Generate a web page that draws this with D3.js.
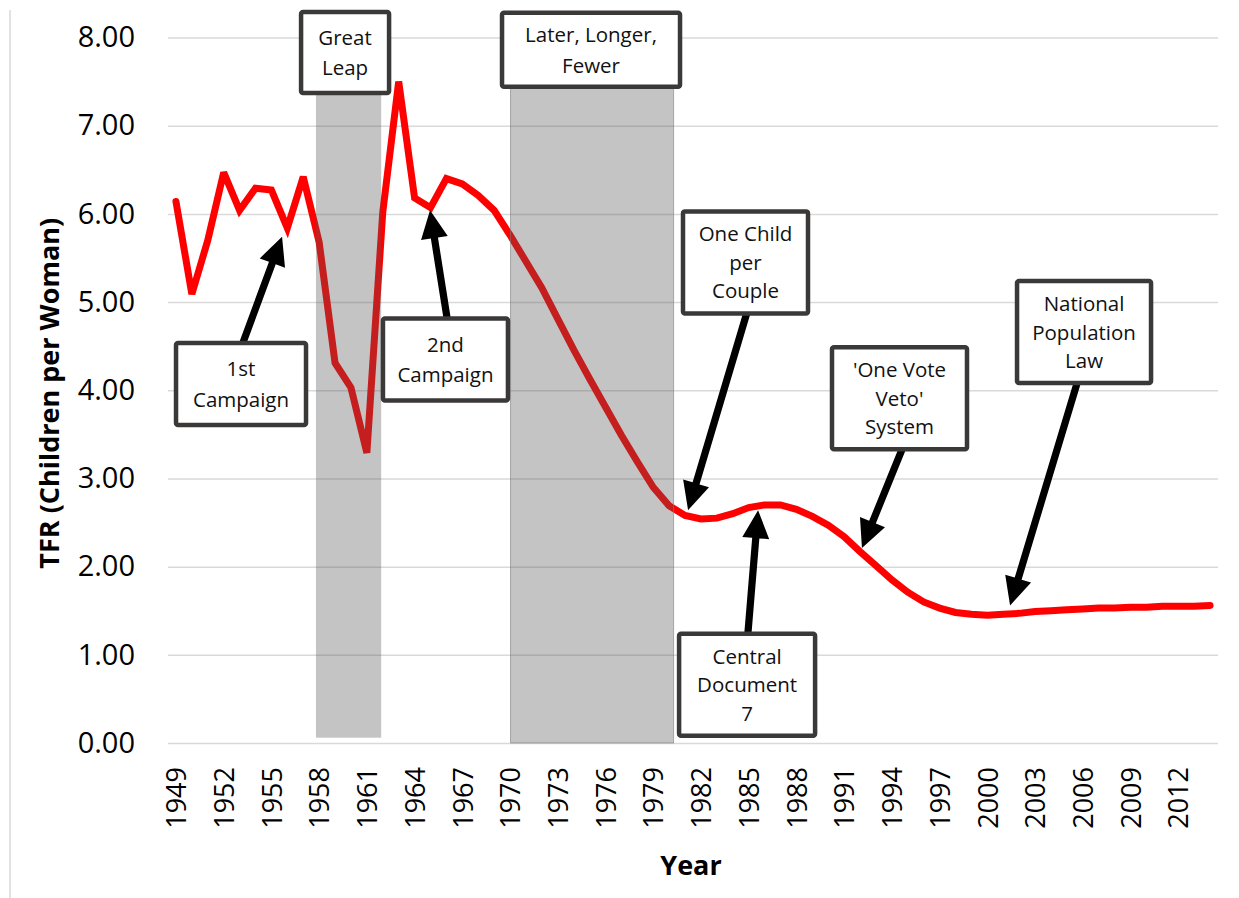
<!DOCTYPE html>
<html>
<head>
<meta charset="utf-8">
<script src="https://cdn.jsdelivr.net/npm/d3@7"></script>
<style>
  body { margin: 0; background: #fff; }
  svg { display: block; font-family: "Open Sans", sans-serif; }
</style>
</head>
<body>
<div id="chart"></div>
<script>
// TFR values, one per year 1949..2014
const years = d3.range(1949, 2015)
const tfr = [
  6.14, 5.09, 5.70, 6.47, 6.04, 6.29, 6.27, 5.84, 6.42, 5.68,
  4.31, 4.03, 3.29, 6.02, 7.50, 6.18, 6.07, 6.40, 6.34, 6.21,
  6.04, 5.76, 5.46, 5.16, 4.81, 4.46, 4.13, 3.81, 3.49, 3.19,
  2.90, 2.69, 2.58, 2.54, 2.55, 2.60, 2.67, 2.70, 2.70, 2.65,
  2.57, 2.47, 2.34, 2.17, 2.01, 1.85, 1.71, 1.60, 1.53, 1.48,
  1.46, 1.45, 1.46, 1.47, 1.49, 1.50, 1.51, 1.52, 1.53, 1.53,
  1.54, 1.54, 1.55, 1.55, 1.55, 1.56
]
const yearTicks = d3.range(1949, 2013, 3)
const tfrTicks = d3.range(0, 9)

// shaded policy periods (years, TFR)
const periodNames = ['Great Leap', 'Later, Longer, Fewer']
const periodStart = [1957.8, 1970.03]
const periodEnd = [1961.9, 1980.28]
const periodTop = [7.37, 7.43]
const periodBottom = [0.06, 0]

// annotation labels, anchored in data space
const noteLines = [
  ['Great', 'Leap'],
  ['Later, Longer,', 'Fewer'],
  ['1st', 'Campaign'],
  ['2nd', 'Campaign'],
  ['One Child', 'per', 'Couple'],
  ['Central', 'Document', '7'],
  ["'One Vote", "Veto'", 'System'],
  ['National', 'Population', 'Law']
]
const noteYear = [1959.63, 1975.09, 1953.09, 1965.94, 1984.8, 1984.9, 1994.48, 2006.08]
const noteTfr = [7.83, 7.86, 4.07, 4.35, 5.45, 0.66, 3.91, 4.66]
const noteW = [88, 178, 130, 125, 125, 136, 135, 134]
const noteH = [81, 74, 82, 82, 102, 102, 102, 102]

// arrows: tail (at box edge) -> tip (on the curve)
const arrowNote = [2, 3, 4, 5, 6, 7]
const arrowFrom = [[1953.21, 4.54], [1966.04, 4.82], [1984.89, 4.88], [1984.95, 1.24], [1994.64, 3.33], [2005.64, 4.08]]
const arrowTo = [[1955.67, 5.74], [1964.97, 6.04], [1981.19, 2.64], [1985.59, 2.64], [1992.12, 2.21], [2001.43, 1.56]]

const W = 1239, H = 898
const mLeft = 168, mRight = 1218, mTop = 37.5, mBottom = 743

const svg = d3.select('#chart').append('svg')
  .attr('width', W)
  .attr('height', H)

svg.append('rect').attr('width', W).attr('height', H).attr('fill', '#fff')
// frame edge on the left
svg.append('line')
  .attr('x1', 10).attr('x2', 10).attr('y1', 10).attr('y2', H)
  .attr('stroke', '#d9d9d9').attr('stroke-width', 1.5)

const x = d3.scaleLinear().domain([1948.5, 2014.5]).range([mLeft, mRight])
const y = d3.scaleLinear().domain([0, 8]).range([mBottom, mTop])

// y axis + gridlines
const yAxis = svg.append('g')
  .attr('transform', `translate(${mLeft},0)`)
  .call(d3.axisLeft(y).tickValues(tfrTicks).tickFormat(d3.format('.2f')).tickSize(-(mRight - mLeft)).tickPadding(33))
yAxis.select('.domain').remove()
yAxis.selectAll('.tick line').attr('stroke', '#d9d9d9').attr('stroke-width', 1.5)
yAxis.selectAll('.tick text')
  .attr('font-size', 29).attr('fill', '#000').attr('font-family', '"Open Sans", sans-serif')

// x axis labels (rotated)
const xAxis = svg.append('g')
  .attr('transform', `translate(0,${mBottom})`)
  .call(d3.axisBottom(x).tickValues(yearTicks).tickFormat(d3.format('d')).tickSize(0))
xAxis.select('.domain').remove()
xAxis.selectAll('.tick text')
  .attr('font-size', 27).attr('fill', '#000').attr('font-family', '"Open Sans", sans-serif')
  .attr('text-anchor', 'end')
  .attr('transform', 'translate(0,24) rotate(-90)')
  .attr('x', 0).attr('y', 0).attr('dy', '0.36em')

// axis titles
svg.append('text')
  .attr('x', (mLeft + mRight) / 2 - 2).attr('y', 875)
  .attr('text-anchor', 'middle')
  .attr('font-size', 27).attr('font-weight', 'bold')
  .text('Year')
svg.append('text')
  .attr('transform', `translate(59,${(mTop + mBottom) / 2 + 3}) rotate(-90)`)
  .attr('text-anchor', 'middle')
  .attr('font-size', 27).attr('font-weight', 'bold')
  .text('TFR (Children per Woman)')

// the TFR line
const line = d3.line()
  .x((d, i) => x(years[i]))
  .y(d => y(d))
svg.append('path')
  .datum(tfr)
  .attr('d', line)
  .attr('fill', 'none')
  .attr('stroke', '#ff0000')
  .attr('stroke-width', 7)
  .attr('stroke-linejoin', 'miter')
  .attr('stroke-miterlimit', 3)
  .attr('stroke-linecap', 'round')

// shaded periods drawn over the line (semi transparent)
svg.selectAll('rect.period')
  .data(periodNames)
  .join('rect')
  .attr('class', 'period')
  .attr('x', (d, i) => x(periodStart[i]))
  .attr('width', (d, i) => x(periodEnd[i]) - x(periodStart[i]))
  .attr('y', (d, i) => y(periodTop[i]))
  .attr('height', (d, i) => y(periodBottom[i]) - y(periodTop[i]))
  .attr('fill', '#555')
  .attr('fill-opacity', 0.35)
  .attr('stroke', (d, i) => i === 1 ? '#7f7f7f' : 'none')
  .attr('stroke-opacity', 0.6)
  .attr('stroke-width', 1)

// arrows
function arrowShape(x1, y1, x2, y2) {
  const dx = x2 - x1, dy = y2 - y1
  const len = Math.sqrt(dx * dx + dy * dy)
  const ux = dx / len, uy = dy / len
  const nx = -uy, ny = ux
  const hl = 28, hw = 13.5, sw = 3.6
  const bx = x2 - ux * hl, by = y2 - uy * hl
  const pts = [
    [x1 + nx * sw, y1 + ny * sw],
    [bx + nx * sw, by + ny * sw],
    [bx + nx * hw, by + ny * hw],
    [x2, y2],
    [bx - nx * hw, by - ny * hw],
    [bx - nx * sw, by - ny * sw],
    [x1 - nx * sw, y1 - ny * sw]
  ]
  return 'M' + pts.map(p => p.join(',')).join('L') + 'Z'
}
svg.selectAll('path.arrow')
  .data(arrowNote)
  .join('path')
  .attr('class', 'arrow')
  .attr('d', (d, i) => arrowShape(x(arrowFrom[i][0]), y(arrowFrom[i][1]), x(arrowTo[i][0]), y(arrowTo[i][1])))
  .attr('fill', '#000')

// annotation boxes
const notes = svg.selectAll('g.note')
  .data(noteLines)
  .join('g')
  .attr('class', 'note')
  .attr('transform', (d, i) => `translate(${x(noteYear[i])},${y(noteTfr[i])})`)

notes.append('rect')
  .attr('x', (d, i) => -noteW[i] / 2)
  .attr('y', (d, i) => -noteH[i] / 2)
  .attr('width', (d, i) => noteW[i])
  .attr('height', (d, i) => noteH[i])
  .attr('rx', 2)
  .attr('fill', '#fff')
  .attr('stroke', '#3b3838')
  .attr('stroke-width', 4.5)

notes.each(function(lines) {
  const lh = lines.length > 2 ? 28.5 : 30.5
  d3.select(this).selectAll('text')
    .data(lines)
    .join('text')
    .attr('text-anchor', 'middle')
    .attr('font-size', 20.5)
    .attr('fill', '#111')
    .attr('y', (t, j) => (j - (lines.length - 1) / 2) * lh + 7.5)
    .text(t => t)
})
</script>
</body>
</html>
